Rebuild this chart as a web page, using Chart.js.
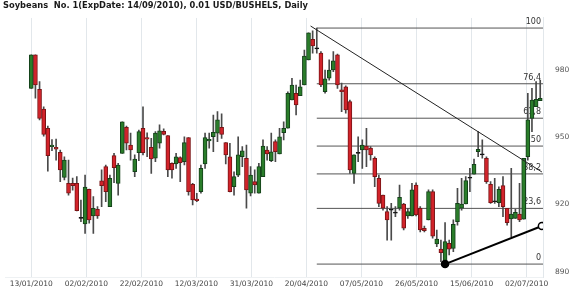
<!DOCTYPE html>
<html>
<head>
<meta charset="utf-8">
<script src="https://cdn.jsdelivr.net/npm/chart.js@4.4.0/dist/chart.umd.min.js"></script>
<style>
html, body { margin: 0; padding: 0; background: #fff; }
</style>
</head>
<body>
<canvas id="chart" width="570" height="297"></canvas>
<script>
var chartTitle = "Soybeans  No. 1(ExpDate: 14/09/2010), 0.01 USD/BUSHELS, Daily";

// daily candles, one entry per trading day from 13/01/2010
var openPrices = [
	971.8, 986.7, 971.4, 962.5, 954.0, 945.8, 945.5, 943.3, 932.1, 929.4,
	929.4, 929.4, 913.8, 911.3, 926.8, 914.9, 917.8, 930.5, 936.9, 919.0,
	941.8, 929.4, 942.8, 954.4, 946.5,
	934.6, 943.1, 954.0, 949.8, 945.5, 940.6, 947.3, 952.6, 950.7, 938.4,
	938.1, 940.9, 939.1, 949.8, 929.0, 922.4, 925.7, 938.1, 948.3, 950.2,
	951.8, 954.4, 947.6,
	941.3, 927.9, 933.1, 941.3, 940.6, 925.0, 930.2, 925.0, 932.4, 944.3,
	939.5, 948.0, 942.5, 952.0, 954.0, 966.6, 969.6, 968.5, 973.3, 984.5,
	993.7, 989.4, 987.5, 970.3, 976.3, 980.0, 986.7, 971.1, 972.5, 965.9,
	933.9, 942.8, 944.3, 946.1, 945.1, 940.6, 931.7, 924.2, 916.8, 917.5,
	916.1, 918.3, 920.2, 914.9, 914.9, 928.7, 918.3, 909.4, 913.1, 925.7,
	902.4, 900.1, 893.7, 902.7, 900.4, 912.3, 918.3, 920.2, 931.7, 933.5,
	943.5, 942.1, 940.6, 929.0, 921.2, 920.8, 928.4, 918.3, 913.5, 913.8,
	915.7, 913.4, 941.3, 958.4, 963.6, 966.3
];
var highPrices = [
	986.7, 986.7, 974.8, 963.6, 955.0, 948.9, 949.2, 944.3, 941.3, 939.8,
	931.8, 932.4, 922.0, 933.1, 926.9, 923.5, 919.0, 935.4, 937.6, 933.1,
	942.8, 938.4, 956.9, 955.0, 951.8,
	942.1, 953.2, 963.6, 952.0, 949.5, 952.5, 955.5, 953.7, 950.7, 938.6,
	942.8, 941.3, 950.2, 949.8, 929.4, 925.0, 937.6, 951.8, 951.8, 959.9,
	961.4, 960.4, 947.6,
	947.3, 934.6, 950.2, 945.8, 946.5, 936.9, 935.4, 938.4, 948.8, 945.8,
	951.8, 948.8, 954.0, 956.9, 970.3, 976.3, 973.3, 975.5, 988.9, 996.6,
	997.5, 998.7, 988.2, 980.0, 984.5, 988.2, 987.1, 974.1, 972.9, 966.6,
	942.1, 950.2, 948.8, 954.0, 945.8, 941.3, 933.1, 924.2, 919.0, 920.5,
	919.0, 928.7, 920.5, 918.3, 929.4, 929.7, 919.0, 910.4, 926.5, 926.5,
	908.6, 904.1, 911.9, 904.1, 913.1, 927.2, 931.7, 932.4, 936.1, 940.2,
	952.5, 948.8, 941.3, 930.2, 931.7, 927.9, 932.4, 918.3, 936.1, 917.8,
	929.4, 940.6, 969.6, 971.8, 974.8, 975.5
];
var lowPrices = [
	971.8, 967.4, 957.7, 950.5, 934.9, 944.0, 939.8, 930.2, 930.9, 924.2,
	926.4, 917.1, 912.3, 907.1, 911.7, 907.1, 913.8, 919.0, 921.2, 919.0,
	929.7, 924.2, 942.8, 944.3, 939.8,
	932.4, 939.5, 942.1, 941.3, 933.9, 939.1, 945.1, 951.0, 932.4, 931.7,
	936.1, 930.2, 937.6, 924.2, 919.8, 921.2, 925.0, 936.1, 945.1, 943.5,
	948.0, 949.5, 938.1,
	925.6, 924.2, 932.4, 936.9, 918.3, 923.8, 925.0, 925.0, 932.4, 939.8,
	939.1, 939.1, 942.5, 948.8, 954.0, 966.6, 959.9, 968.5, 973.3, 984.5,
	987.5, 987.5, 972.5, 969.6, 975.5, 979.2, 971.8, 961.4, 960.7, 933.9,
	929.4, 939.1, 936.1, 936.9, 939.8, 927.9, 919.0, 917.5, 904.1, 904.1,
	914.5, 917.5, 908.6, 913.8, 914.9, 914.9, 907.8, 907.7, 913.1, 905.0,
	901.2, 894.5, 893.4, 897.5, 898.9, 910.8, 917.5, 920.2, 925.7, 933.5,
	941.3, 940.6, 929.4, 920.5, 920.5, 919.0, 914.5, 910.8, 905.6, 913.8,
	912.3, 913.4, 939.8, 952.5, 963.6, 966.3
];
var closePrices = [
	986.7, 973.3, 958.4, 951.3, 941.8, 946.5, 944.7, 935.4, 939.8, 925.0,
	928.4, 917.2, 913.8, 927.7, 913.1, 918.3, 914.9, 928.4, 925.7, 931.7,
	936.4, 937.6, 956.9, 947.3, 944.3,
	940.3, 952.5, 943.1, 949.1, 940.3, 951.8, 952.8, 951.3, 935.4, 935.4,
	941.3, 938.6, 947.6, 925.7, 922.0, 921.7, 936.1, 949.8, 949.1, 952.2,
	957.7, 951.3, 942.1,
	925.7, 932.4, 942.1, 943.9, 926.5, 933.1, 928.7, 936.9, 946.1, 942.5,
	943.5, 943.5, 950.2, 954.0, 969.6, 973.3, 964.4, 972.5, 986.2, 996.6,
	990.7, 989.4, 973.3, 976.0, 980.0, 984.1, 973.3, 970.3, 962.2, 935.4,
	942.1, 942.8, 946.5, 944.3, 942.1, 932.4, 920.5, 918.3, 913.1, 917.5,
	916.1, 923.2, 909.4, 916.8, 926.5, 915.3, 908.6, 908.3, 925.7, 905.9,
	904.6, 898.5, 903.4, 900.0, 911.1, 920.5, 920.2, 930.6, 931.7, 937.9,
	944.6, 942.1, 930.2, 920.8, 921.2, 926.8, 919.0, 911.9, 915.7, 916.5,
	913.1, 940.6, 957.7, 966.6, 966.9, 967.4
];

var dateLabels = ["13/01/2010", "02/02/2010", "22/02/2010", "12/03/2010", "31/03/2010",
	"20/04/2010", "07/05/2010", "26/05/2010", "15/06/2010", "02/07/2010"];
var priceTicks = [890, 920, 950, 980];

// fibonacci retracement between the april high and the june low
var fibRatios = [0, 23.6, 38.2, 50, 61.8, 76.4, 100];
var fibHigh = 998.7, fibHighBar = 69;
var fibLow = 893.4;

// hand drawn lines: [bar, price]
var trendLine = [[67.5, 999.6], [123.4, 934.5]];
var supportLine = [[100, 893.4], [123.4, 910.4]];

var barsPerLabel = 13.3;
var xMin = -6.23, xMax = 123.67;

function fibLevel(r) {
	return fibLow + (fibHigh - fibLow) * r / 100;
}

var wicks = [], bodies = [], bodyFill = [], bodyLine = [];
openPrices.forEach(function(o, i) {
	var c = closePrices[i];
	wicks.push({x: i, y: [lowPrices[i], highPrices[i]]});
	bodies.push({x: i, y: [o, c]});
	if (c > o) {
		bodyFill.push("#2a7d2a"); bodyLine.push("#14401a");
	} else if (c < o) {
		bodyFill.push("#d2232a"); bodyLine.push("#7a1416");
	} else {
		bodyFill.push("#111"); bodyLine.push("#111");
	}
});

var datasets = [];
fibRatios.forEach(function(r) {
	datasets.push({
		type: "line",
		data: [{x: fibHighBar, y: fibLevel(r)}, {x: xMax, y: fibLevel(r)}],
		borderColor: "#555",
		borderWidth: 1,
		pointRadius: 0,
		order: 4
	});
});
datasets.push({
	type: "bar",
	data: wicks,
	backgroundColor: "#4a4a4a",
	borderWidth: 0,
	barThickness: 1,
	grouped: false,
	order: 3
});
datasets.push({
	type: "bar",
	data: bodies,
	backgroundColor: bodyFill,
	borderColor: bodyLine,
	borderWidth: 1,
	borderSkipped: false,
	barThickness: 4,
	minBarLength: 1,
	grouped: false,
	order: 2
});
datasets.push({
	type: "line",
	data: trendLine.map(function(p) { return {x: p[0], y: p[1]}; }),
	borderColor: "#222",
	borderWidth: 1,
	pointRadius: 0,
	order: 1
});
datasets.push({
	type: "line",
	data: supportLine.map(function(p) { return {x: p[0], y: p[1]}; }),
	borderColor: "#000",
	borderWidth: 2,
	pointRadius: 3.5,
	pointBackgroundColor: ["#000", "#fff"],
	pointBorderColor: "#000",
	pointBorderWidth: 1.5,
	order: 0
});

// level numbers sit just above each fibonacci line, under the candles
var fibLabels = {
	id: "fibLabels",
	beforeDatasetsDraw: function(chart) {
		var ctx = chart.ctx, y = chart.scales.y, area = chart.chartArea;
		ctx.save();
		ctx.font = '8px "DejaVu Sans"';
		ctx.fillStyle = "#333";
		ctx.textAlign = "right";
		ctx.textBaseline = "bottom";
		fibRatios.forEach(function(r) {
			ctx.fillText(String(r).replace(".", ","), area.right - 2, y.getPixelForValue(fibLevel(r)) - 2);
		});
		ctx.restore();
	}
};

new Chart(document.getElementById("chart").getContext("2d"), {
	type: "bar",
	data: {datasets: datasets},
	plugins: [fibLabels],
	options: {
		responsive: false,
		animation: false,
		layout: {padding: {left: 3, right: 0, top: 0, bottom: 0}},
		plugins: {
			legend: {display: false},
			tooltip: {enabled: false},
			title: {
				display: true,
				text: chartTitle,
				align: "start",
				color: "#1a1a1a",
				font: {family: "DejaVu Sans", size: 8.3, weight: "bold"},
				padding: {top: 1, bottom: 7}
			}
		},
		scales: {
			x: {
				type: "linear",
				min: xMin,
				max: xMax,
				offset: false,
				grid: {color: "#e2e7eb", drawTicks: false, offset: false},
				border: {color: "#eef1f3"},
				afterBuildTicks: function(scale) {
					scale.ticks = dateLabels.map(function(l, k) { return {value: k * barsPerLabel}; });
				},
				afterFit: function(scale) { scale.height = 20; },
				ticks: {
					autoSkip: false,
					maxRotation: 0,
					padding: 3,
					color: "#444",
					font: {family: "DejaVu Sans", size: 7.5},
					callback: function(v, i) { return dateLabels[i]; }
				}
			},
			y: {
				position: "right",
				min: 887.64,
				max: 1003.2,
				grid: {display: false},
				border: {color: "#e2e7eb"},
				afterBuildTicks: function(scale) {
					scale.ticks = priceTicks.map(function(v) { return {value: v}; });
				},
				afterFit: function(scale) { scale.width = 27; },
				ticks: {
					padding: 4,
					color: "#555",
					font: {family: "DejaVu Sans", size: 7.5}
				}
			}
		}
	}
});
</script>
</body>
</html>
